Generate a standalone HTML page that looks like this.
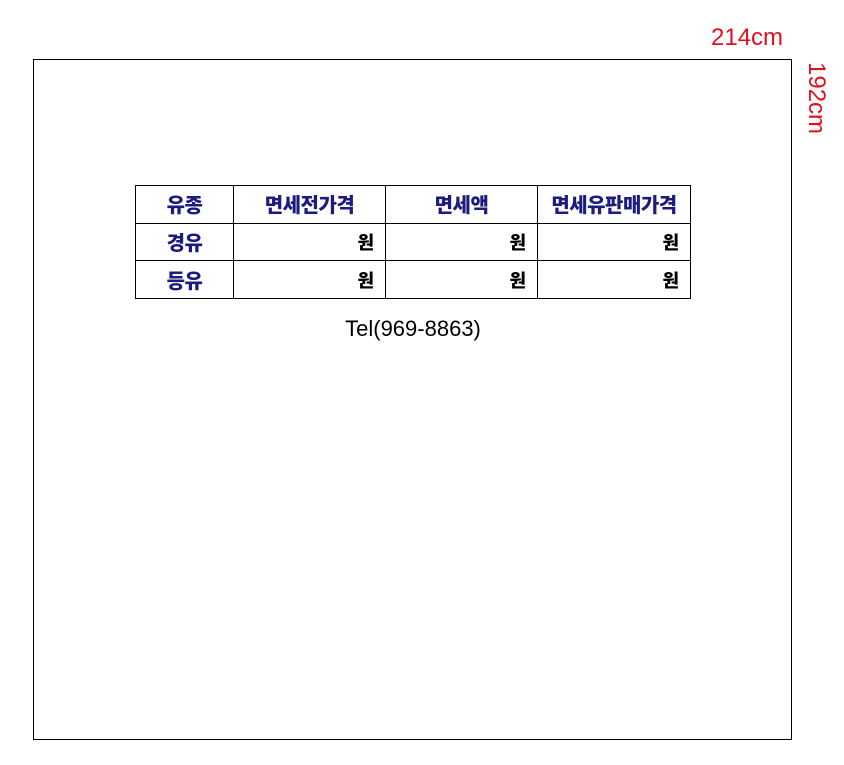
<!DOCTYPE html>
<html><head><meta charset="utf-8"><style>
body{margin:0;width:844px;height:765px;background:#fff;position:relative;font-family:"Liberation Sans","NanumGothic","Noto Sans CJK KR",sans-serif;overflow:hidden}
.box{position:absolute;left:33px;top:59px;width:757px;height:679px;border:1px solid #000}
.w{position:absolute;left:711px;top:24px;color:#e0101e;font-size:24px;line-height:28px}
.h{position:absolute;left:803px;top:62px;color:#e0101e;font-size:24px;line-height:26px;transform-origin:0 0;transform:translate(26px,0) rotate(90deg)}
table{position:absolute;left:135px;top:185px;border-collapse:collapse}
td{border:1px solid #000;height:36.7px;padding:0;font-weight:900;font-size:20px;font-family:"Noto Sans CJK KR","NanumGothic",sans-serif;line-height:20px}
.b{color:#1c1c80;text-align:center;letter-spacing:-0.5px}
.r{text-align:right;padding-right:11px;color:#000;font-size:18px}
.tel{position:absolute;left:0;width:826px;top:316px;text-align:center;font-size:22px;font-family:"Liberation Sans",sans-serif;color:#000}
</style></head><body>
<div class="w">214cm</div>
<div class="h">192cm</div>
<div class="box"></div>
<table>
<tr><td class="b" style="width:97px">유종</td><td class="b" style="width:151px">면세전가격</td><td class="b" style="width:151px">면세액</td><td class="b" style="width:152px">면세유판매가격</td></tr>
<tr><td class="b">경유</td><td class="r">원</td><td class="r">원</td><td class="r">원</td></tr>
<tr><td class="b">등유</td><td class="r">원</td><td class="r">원</td><td class="r">원</td></tr>
</table>
<div class="tel">Tel(969-8863)</div>
</body></html>
